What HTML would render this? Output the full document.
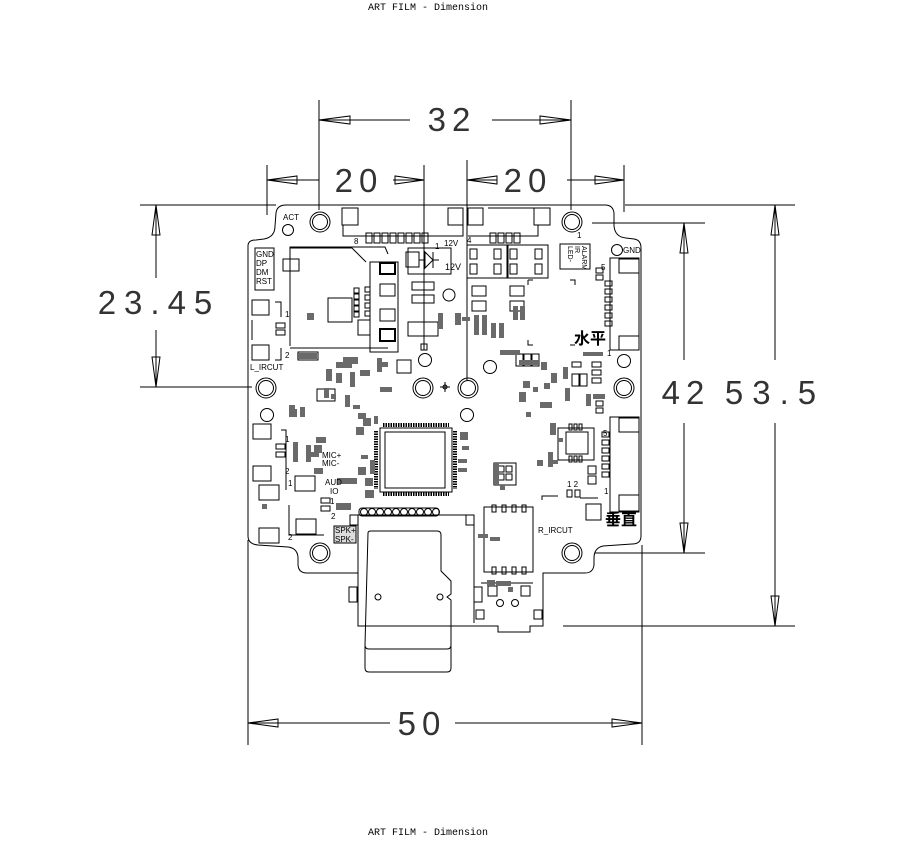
<!DOCTYPE html>
<html><head><meta charset="utf-8"><style>
html,body{margin:0;padding:0;background:#fff;}
svg{display:block;}
text{font-family:"Liberation Sans","Noto Sans CJK SC",sans-serif;}
.m{font-family:"Liberation Mono",monospace;font-size:10px;}
.d{font-size:33px;fill:#333;letter-spacing:6px;font-weight:normal;}
</style></head><body>
<svg width="922" height="844" viewBox="0 0 922 844" xmlns="http://www.w3.org/2000/svg">
<text class="m" x="428" y="10" text-anchor="middle">ART FILM - Dimension</text>
<text class="m" x="428" y="835" text-anchor="middle">ART FILM - Dimension</text>

<g stroke="#000" stroke-width="1" fill="none">
<line x1="319" y1="100" x2="319" y2="210"/><line x1="571" y1="100" x2="571" y2="210"/>
<line x1="319" y1="120" x2="410" y2="120"/><line x1="492" y1="120" x2="571" y2="120"/>
<path d="M319,120 L350,116 L350,124 Z"/><path d="M571,120 L540,116 L540,124 Z"/>
<line x1="267" y1="165" x2="267" y2="215"/><line x1="424" y1="165" x2="424" y2="345"/>
<line x1="267" y1="180" x2="319" y2="180"/>
<path d="M267,180 L297,176 L297,184 Z"/>
<line x1="393" y1="180" x2="424" y2="180"/><path d="M424,180 L395,176 L395,184 Z"/>
<line x1="467" y1="160" x2="467" y2="380"/><line x1="624" y1="165" x2="624" y2="212"/>
<path d="M467,180 L497,176 L497,184 Z"/><line x1="467" y1="180" x2="497" y2="180"/>
<line x1="567" y1="180" x2="624" y2="180"/><path d="M624,180 L595,176 L595,184 Z"/>
<line x1="140" y1="205" x2="276" y2="205"/><line x1="140" y1="387" x2="252" y2="387"/>
<line x1="156" y1="205" x2="156" y2="278"/><line x1="156" y1="330" x2="156" y2="387"/>
<path d="M156,205 L152,235 L160,235 Z"/><path d="M156,387 L152,357 L160,357 Z"/>
<line x1="592" y1="223" x2="705" y2="223"/><line x1="595" y1="553" x2="705" y2="553"/>
<line x1="684" y1="223" x2="684" y2="360"/><line x1="684" y1="423" x2="684" y2="553"/>
<path d="M684,223 L680,253 L688,253 Z"/><path d="M684,553 L680,523 L688,523 Z"/>
<line x1="625" y1="205" x2="795" y2="205"/><line x1="563" y1="626" x2="795" y2="626"/>
<line x1="775" y1="205" x2="775" y2="360"/><line x1="775" y1="423" x2="775" y2="626"/>
<path d="M775,205 L771,235 L779,235 Z"/><path d="M775,626 L771,596 L779,596 Z"/>
<line x1="248" y1="540" x2="248" y2="745"/><line x1="642" y1="545" x2="642" y2="745"/>
<line x1="248" y1="723" x2="390" y2="723"/><line x1="455" y1="723" x2="642" y2="723"/>
<path d="M248,723 L278,719 L278,727 Z"/><path d="M642,723 L612,719 L612,727 Z"/>

<path d="M248,246 Q248,240 256,240 L264,239 Q275,237 275,226 L276,213 Q277,205 286,205 L605,205 Q613,205 614,213 L614,226 Q615,237 626,238 L634,239 Q641,240 641,248 L641,536 Q641,544 632,544 L603,546 Q594,548 594,558 L594,565 Q593,573 585,573 L543,573 L543,626 L530,626 L530,632 L498,632 L498,626 L474,626 L358,626 L358,573 L307,573 Q298,573 298,564 L298,557 Q297,548 288,547 L258,545 Q248,544 248,536 Z"/>

<g>
<circle cx="320" cy="222" r="10"/><circle cx="320" cy="222" r="7.5"/>
<circle cx="572" cy="222" r="10"/><circle cx="572" cy="222" r="7.5"/>
<circle cx="320" cy="553" r="10"/><circle cx="320" cy="553" r="7.5"/>
<circle cx="572" cy="553" r="10"/><circle cx="572" cy="553" r="7.5"/>
<circle cx="266" cy="388" r="10"/><circle cx="266" cy="388" r="7.5"/>
<circle cx="423" cy="388" r="10"/><circle cx="423" cy="388" r="7.5"/>
<circle cx="468" cy="388" r="10"/><circle cx="468" cy="388" r="7.5"/>
<circle cx="624" cy="388" r="10"/><circle cx="624" cy="388" r="7.5"/>
</g>
<circle cx="288" cy="230" r="5.5"/><circle cx="617" cy="250" r="5.5"/>
<circle cx="267" cy="415" r="6.5"/><circle cx="467" cy="415" r="6.5"/>
<circle cx="425" cy="360" r="6.5"/><circle cx="490" cy="367" r="6.5"/><circle cx="624" cy="361" r="6.5"/>
<circle cx="449" cy="295" r="6"/>
<path d="M440,387 h10 M445,382 v10"/><circle cx="445" cy="387" r="2"/>

<rect x="342" y="208" width="16" height="17"/><rect x="448" y="208" width="15" height="17"/>
<rect x="468" y="208" width="15" height="17"/><rect x="534" y="208" width="16" height="17"/>
<path d="M343,225 v11 h120 v-11 M488,208 h50 M468,236 h70 v-11"/>
<g>
<rect x="366" y="233" width="6" height="10"/><rect x="374" y="233" width="6" height="10"/><rect x="382" y="233" width="6" height="10"/><rect x="390" y="233" width="6" height="10"/><rect x="398" y="233" width="6" height="10"/><rect x="406" y="233" width="6" height="10"/><rect x="414" y="233" width="6" height="10"/><rect x="422" y="233" width="6" height="10"/>
<rect x="490" y="233" width="6" height="10"/><rect x="498" y="233" width="6" height="10"/><rect x="506" y="233" width="6" height="10"/><rect x="514" y="233" width="6" height="10"/>
</g>
<path d="M290,346 V247 H385 L388,254"/><path d="M290,348 H388"/>
<rect x="283" y="259" width="16" height="12"/>
<rect x="328" y="298" width="24" height="24"/>
<rect x="370" y="262" width="28" height="90"/>
<rect x="380" y="263" width="15" height="11" stroke-width="2"/><rect x="380" y="284" width="15" height="12"/><rect x="380" y="309" width="15" height="12"/><rect x="380" y="329" width="15" height="12" stroke-width="2"/>
<rect x="365" y="287" width="5" height="5"/><rect x="365" y="295" width="5" height="5"/><rect x="365" y="303" width="5" height="5"/><rect x="365" y="311" width="5" height="5"/>
<rect x="354" y="288" width="5" height="5"/><rect x="354" y="294" width="5" height="5"/><rect x="354" y="300" width="5" height="5"/><rect x="354" y="306" width="5" height="5"/><rect x="354" y="312" width="5" height="5"/>
<path d="M290,248 L352,248 L366,262"/>
<rect x="255" y="248" width="19" height="42"/>
<rect x="408" y="248" width="43" height="26"/><rect x="406" y="252" width="13" height="15"/>
<path d="M419,260 h6 M425,252 l8,8 l-8,8 Z M433,252 v16 M433,260 h6"/>
<rect x="412" y="282" width="22" height="8"/><rect x="412" y="295" width="22" height="8"/>
<rect x="408" y="322" width="30" height="14"/><path d="M424,336 v14 M421,344 h6 v6 h-6 Z"/>
<rect x="467" y="245" width="40" height="33"/><rect x="508" y="245" width="40" height="33"/>
<rect x="470" y="249" width="7" height="10"/><rect x="494" y="249" width="7" height="10"/><rect x="470" y="264" width="7" height="10"/><rect x="494" y="264" width="7" height="10"/>
<rect x="510" y="249" width="7" height="10"/><rect x="535" y="249" width="7" height="10"/><rect x="510" y="264" width="7" height="10"/><rect x="535" y="264" width="7" height="10"/>
<rect x="560" y="244" width="30" height="25"/>
<rect x="472" y="286" width="14" height="10"/><rect x="472" y="301" width="14" height="10"/>
<rect x="510" y="286" width="14" height="10"/><rect x="510" y="301" width="14" height="10"/>
<path d="M528,280 v5 M528,280 h5 M570,280 h5 v5 M528,340 v5 h5 M575,345 h-5"/>
<rect x="596" y="268" width="7" height="5"/><rect x="596" y="275" width="7" height="5"/>
<g><rect x="605" y="281" width="7" height="5"/><rect x="605" y="289" width="7" height="5"/><rect x="605" y="297" width="7" height="5"/><rect x="605" y="305" width="7" height="5"/><rect x="605" y="313" width="7" height="5"/><rect x="605" y="321" width="7" height="5"/></g>
<rect x="610" y="258" width="29" height="92"/><rect x="619" y="259" width="20" height="14"/><rect x="619" y="336" width="20" height="14"/>
<rect x="610" y="417" width="29" height="95"/><rect x="619" y="418" width="20" height="14"/><rect x="619" y="495" width="20" height="16"/>
<g><rect x="602" y="432" width="7" height="5"/><rect x="602" y="440" width="7" height="5"/><rect x="602" y="448" width="7" height="5"/><rect x="602" y="456" width="7" height="5"/><rect x="602" y="464" width="7" height="5"/><rect x="602" y="472" width="7" height="5"/></g>
<rect x="588" y="466" width="8" height="8"/><rect x="588" y="476" width="8" height="8"/>
<rect x="567" y="490" width="5" height="7"/><rect x="575" y="490" width="5" height="7"/>
<rect x="586" y="504" width="15" height="16"/><path d="M542,500 v-4 h16 M580,498 h18"/>
<rect x="566" y="432" width="22" height="22"/>
<g><rect x="569" y="424" width="3" height="6"/><rect x="574" y="424" width="3" height="6"/><rect x="579" y="424" width="3" height="6"/><rect x="569" y="456" width="3" height="6"/><rect x="574" y="456" width="3" height="6"/><rect x="579" y="456" width="3" height="6"/></g>
<path d="M558,428 h36 v32 h-36 Z"/>
<rect x="252" y="300" width="17" height="15"/><rect x="252" y="345" width="17" height="15"/>
<path d="M275,302 h6 v15 M275,360 h6 v-12 M252,320 v20"/>
<rect x="276" y="323" width="9" height="5"/><rect x="276" y="330" width="9" height="5"/>
<rect x="298" y="352" width="20" height="8"/>
<rect x="253" y="424" width="18" height="15"/><rect x="253" y="466" width="18" height="15"/>
<rect x="276" y="444" width="9" height="5"/><rect x="276" y="452" width="9" height="5"/>
<rect x="295" y="476" width="20" height="15"/><rect x="259" y="485" width="20" height="15"/><rect x="259" y="528" width="20" height="15"/>
<rect x="296" y="519" width="20" height="15"/>
<rect x="321" y="498" width="9" height="5"/><rect x="321" y="506" width="9" height="5"/>
<path d="M281,430 h5 v60 M289,505 v30 h35"/>
<rect x="380" y="428" width="72" height="64"/>
<rect x="385" y="432" width="60" height="56"/>
<path d="M383,425 h66 M383,494 h66 M376,431 v58 M455,431 v58" stroke-width="4" stroke-dasharray="1.5,1"/>
<rect x="359" y="508" width="80" height="8" rx="3"/>
<g><circle cx="364" cy="512" r="3.5"/><circle cx="372" cy="512" r="3.5"/><circle cx="380" cy="512" r="3.5"/><circle cx="388" cy="512" r="3.5"/><circle cx="396" cy="512" r="3.5"/><circle cx="404" cy="512" r="3.5"/><circle cx="412" cy="512" r="3.5"/><circle cx="420" cy="512" r="3.5"/><circle cx="428" cy="512" r="3.5"/><circle cx="436" cy="512" r="3.5"/></g>
<path d="M358,515 h116 v108 M358,515 v108"/>
<rect x="350" y="515" width="8" height="10"/><rect x="466" y="515" width="8" height="10"/>
<rect x="349" y="587" width="8" height="15"/><rect x="474" y="587" width="8" height="15"/>
<path d="M368,533 Q368,531 371,531 L437,531 Q441,531 441,535 L441,571 L451,581 L451,594 L447,597 L451,600 L451,645 Q451,649 447,649 L369,649 Q365,649 365,645 Z"/>
<path d="M365,646 L365,668 Q365,672 369,672 L447,672 Q451,672 451,668 L451,646"/>
<circle cx="378" cy="597" r="3"/><circle cx="440" cy="597" r="3"/>
<rect x="484" y="507" width="49" height="65"/>
<g><rect x="492" y="505" width="4" height="7"/><rect x="502" y="505" width="4" height="7"/><rect x="512" y="505" width="4" height="7"/><rect x="522" y="505" width="4" height="7"/>
<rect x="492" y="567" width="4" height="7"/><rect x="502" y="567" width="4" height="7"/><rect x="512" y="567" width="4" height="7"/><rect x="522" y="567" width="4" height="7"/></g>
<path d="M481,583 h52"/><rect x="488" y="586" width="9" height="10"/><rect x="521" y="586" width="9" height="10"/>
<circle cx="500" cy="603" r="3.5"/><circle cx="515" cy="603" r="3.5"/>
<rect x="476" y="610" width="8" height="9"/><rect x="534" y="610" width="8" height="9"/>
<rect x="494" y="463" width="22" height="22"/><rect x="498" y="466" width="6" height="6"/><rect x="506" y="466" width="6" height="6"/><rect x="498" y="474" width="6" height="6"/><rect x="506" y="474" width="6" height="6"/>
<rect x="516" y="354" width="7" height="12"/><rect x="524" y="354" width="7" height="12"/><rect x="532" y="354" width="7" height="12"/>
<rect x="572" y="362" width="9" height="5"/><rect x="592" y="362" width="9" height="5"/><rect x="592" y="370" width="9" height="5"/><rect x="592" y="378" width="9" height="5"/>
<rect x="572" y="374" width="7" height="12"/><rect x="580" y="374" width="7" height="12"/>
<rect x="596" y="401" width="7" height="5"/><rect x="596" y="408" width="7" height="5"/>
<rect x="397" y="360" width="14" height="13"/><rect x="317" y="389" width="18" height="12"/>
<rect x="358" y="320" width="12" height="15"/>
</g>

<g fill="#6a6a6a">
<rect x="307" y="313" width="7" height="7"/><rect x="455" y="313" width="6" height="12"/><rect x="462" y="317" width="8" height="4"/>
<rect x="474" y="315" width="5" height="20"/><rect x="482" y="315" width="5" height="20"/><rect x="491" y="323" width="5" height="15"/><rect x="499" y="323" width="5" height="15"/>
<rect x="513" y="306" width="5" height="14"/><rect x="520" y="306" width="5" height="14"/>
<rect x="438" y="313" width="5" height="16"/>
<rect x="500" y="350" width="20" height="5"/><rect x="519" y="360" width="20" height="5"/>
<rect x="541" y="362" width="6" height="8"/><rect x="551" y="373" width="6" height="10"/><rect x="523" y="381" width="7" height="7"/>
<rect x="519" y="392" width="7" height="10"/><rect x="533" y="387" width="5" height="5"/><rect x="544" y="383" width="6" height="6"/>
<rect x="540" y="402" width="12" height="6"/><rect x="526" y="412" width="5" height="5"/>
<rect x="583" y="352" width="20" height="4"/><rect x="563" y="367" width="5" height="12"/><rect x="565" y="388" width="5" height="13"/>
<rect x="593" y="394" width="12" height="5"/><rect x="586" y="394" width="5" height="12"/>
<rect x="343" y="357" width="15" height="7"/><rect x="326" y="369" width="6" height="12"/><rect x="336" y="362" width="16" height="6"/>
<rect x="360" y="370" width="10" height="6"/><rect x="377" y="358" width="5" height="14"/>
<rect x="336" y="373" width="6" height="10"/><rect x="350" y="372" width="5" height="15"/><rect x="380" y="387" width="12" height="5"/>
<rect x="324" y="388" width="5" height="10"/><rect x="331" y="394" width="5" height="5"/><rect x="345" y="395" width="5" height="12"/>
<rect x="353" y="405" width="7" height="4"/><rect x="358" y="413" width="8" height="6"/><rect x="374" y="416" width="4" height="8"/>
<rect x="356" y="427" width="8" height="8"/><rect x="363" y="418" width="8" height="8"/>
<rect x="300" y="407" width="5" height="10"/><rect x="293" y="409" width="4" height="8"/>
<rect x="316" y="437" width="10" height="6"/><rect x="314" y="445" width="8" height="8"/><rect x="309" y="452" width="10" height="5"/>
<rect x="293" y="442" width="5" height="20"/><rect x="306" y="445" width="5" height="17"/>
<rect x="314" y="468" width="9" height="6"/><rect x="361" y="455" width="7" height="4"/>
<rect x="358" y="467" width="8" height="8"/><rect x="370" y="460" width="5" height="14"/><rect x="365" y="478" width="8" height="8"/><rect x="365" y="490" width="9" height="8"/>
<rect x="337" y="478" width="20" height="6"/><rect x="336" y="503" width="15" height="7"/>
<rect x="460" y="432" width="8" height="8"/><rect x="462" y="446" width="7" height="4"/>
<rect x="458" y="459" width="9" height="4"/><rect x="458" y="468" width="9" height="4"/>
<rect x="493" y="463" width="6" height="22"/><rect x="500" y="485" width="5" height="5"/>
<rect x="537" y="460" width="6" height="6"/><rect x="548" y="452" width="5" height="15"/>
<rect x="550" y="423" width="6" height="12"/><rect x="558" y="438" width="5" height="4"/><rect x="548" y="460" width="10" height="4"/>
<rect x="478" y="534" width="10" height="4"/><rect x="490" y="537" width="10" height="4"/>
<rect x="487" y="580" width="8" height="6"/><rect x="508" y="587" width="5" height="5"/><rect x="496" y="581" width="15" height="5"/>
<rect x="289" y="405" width="6" height="12"/><rect x="262" y="504" width="5" height="5"/>
<rect x="297" y="353" width="20" height="6"/><rect x="380" y="362" width="8" height="5"/>
</g>
<g font-size="8" fill="#000">
<text x="283" y="220">ACT</text>
<text x="623" y="253">GND</text>
<text x="256" y="257">GND</text><text x="256" y="266">DP</text><text x="256" y="275">DM</text><text x="256" y="284">RST</text>
<text x="250" y="370">L_IRCUT</text>
<text x="285" y="317">1</text><text x="285" y="358">2</text>
<text x="285" y="442">1</text><text x="285" y="474">2</text>
<text x="288" y="486">1</text><text x="288" y="540">2</text>
<text x="354" y="244">8</text><text x="435" y="249">1</text><text x="444" y="246">12V</text>
<text x="445" y="270" font-size="9">12V</text>
<text x="467" y="243">4</text><text x="577" y="238">1</text>
<text x="601" y="270">5</text><text x="607" y="356">1</text>
<text x="603" y="436">5</text><text x="604" y="494">1</text>
<text x="567" y="487">1 2</text>
<text x="538" y="533">R_IRCUT</text>
<text x="322" y="458">MIC+</text><text x="322" y="466">MIC-</text>
<text x="325" y="485">AUD</text><text x="330" y="494">IO</text>
<text x="330" y="504">1</text><text x="331" y="519">2</text>
</g>
<g font-size="7" fill="#000"><text transform="translate(582,246) rotate(90)">ALARM</text><text transform="translate(575,246) rotate(90)">IR</text><text transform="translate(568,246) rotate(90)">LED-</text></g>
<rect x="334" y="526" width="22" height="17" fill="#ddd" stroke="#000"/>
<text x="335" y="533" font-size="8">SPK+</text><text x="335" y="542" font-size="8">SPK-</text>
<text x="574" y="344" font-size="16" font-family="Noto Sans CJK SC, sans-serif" font-weight="bold">水平</text>
<text x="605" y="525" font-size="16" font-family="Noto Sans CJK SC, sans-serif" font-weight="bold">垂直</text>

<text class="d" x="452" y="131" text-anchor="middle">32</text>
<text class="d" x="359" y="192" text-anchor="middle">20</text>
<text class="d" x="528" y="192" text-anchor="middle">20</text>
<text class="d" x="159" y="314" text-anchor="middle" style="letter-spacing:8px">23.45</text>
<text class="d" x="686" y="404" text-anchor="middle">42</text>
<text class="d" x="775" y="404" text-anchor="middle" style="letter-spacing:9px">53.5</text>
<text class="d" x="422" y="735" text-anchor="middle">50</text>
</svg>
</body></html>
